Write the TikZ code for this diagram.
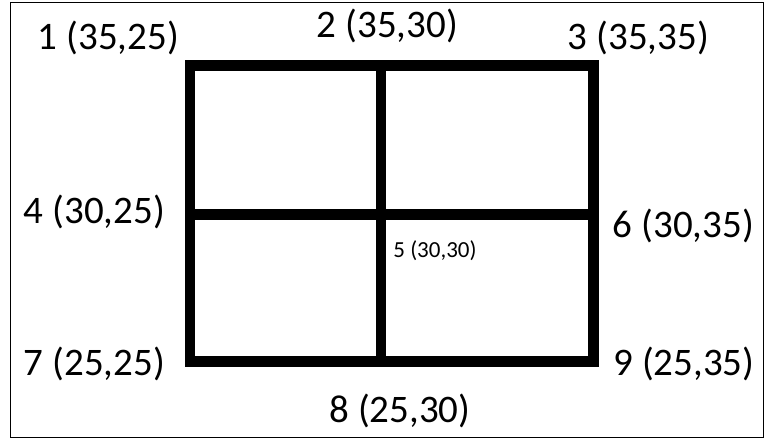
\documentclass[tikz,border=0pt]{standalone}
\usepackage{fontspec}
\setmainfont{Carlito}
\usetikzlibrary{positioning}

\begin{document}
\begin{tikzpicture}[
    x=1pt, y=-1pt,
    wall/.style={draw, line width=10.5pt},
    coord/.style={anchor=base, inner sep=0pt, font=\fontsize{39}{39}\selectfont},
    smallcoord/.style={anchor=base, inner sep=0pt, font=\fontsize{23}{23}\selectfont},
]
\useasboundingbox (0,0) rectangle (766,441);

% Frame
\draw[line width=1pt] (10,2.5) rectangle (763.5,437.5);

% Grid points
\coordinate (p1) at (190,65.5);
\coordinate (p2) at (381,65.5);
\coordinate (p3) at (593.5,65.5);
\coordinate (p4) at (190,214.5);
\coordinate (p5) at (381,214.5);
\coordinate (p6) at (593.5,214.5);
\coordinate (p7) at (190,361.5);
\coordinate (p8) at (381,361.5);
\coordinate (p9) at (593.5,361.5);

% Walls
\draw[wall] (p1) -- (p3) -- (p9) -- (p7) -- cycle;
\draw[wall] (p2) -- (p8);
\draw[wall] (p4) -- (p6);

% Labels
\node[coord] (l1) at (108.5,50) {1 (35,25)};
\node[coord] (l2) at (387.5,38) {2 (35,30)};
\node[coord] (l3) at (638.5,50) {3 (35,35)};
\node[coord] (l4) at (94.5,223) {4 (30,25)};
\node[smallcoord] (l5) at (435,257) {5 (30,30)};
\node[coord] (l6) at (683.5,237) {6 (30,35)};
\node[coord] (l7) at (94.5,375) {7 (25,25)};
\node[coord] (l8) at (400,422) {8 (25,30)};
\node[coord] (l9) at (684,375) {9 (25,35)};

\end{tikzpicture}
\end{document}
